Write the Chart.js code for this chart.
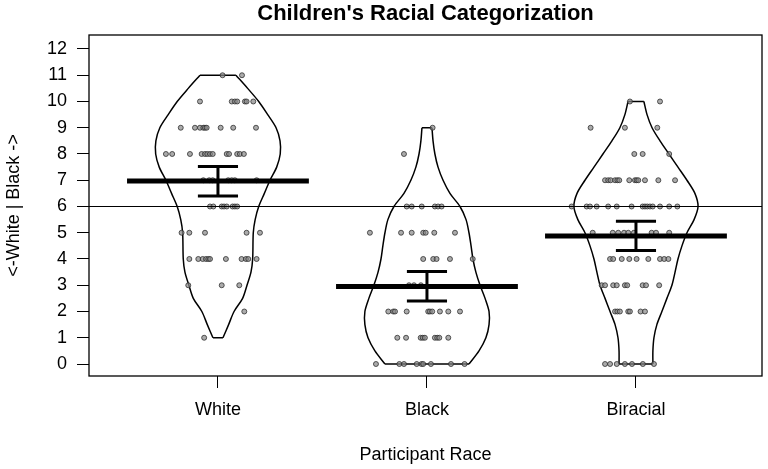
<!DOCTYPE html>
<html>
<head>
<meta charset="utf-8">
<script src="https://cdn.jsdelivr.net/npm/chart.js@4.4.1/dist/chart.umd.min.js"></script>
<style>
  html, body { margin: 0; padding: 0; background: #fff; }
</style>
</head>
<body>
<canvas id="chart" width="768" height="469"></canvas>
<script>
// categories and axis ticks
const groups = ['White', 'Black', 'Biracial'];
const yTicks = [0, 1, 2, 3, 4, 5, 6, 7, 8, 9, 10, 11, 12];
const refLine = 6;
const chartTitle = "Children's Racial Categorization";

// group means and error bar ends
const means = [6.97, 2.95, 4.88];
const errLow = [6.40, 2.40, 4.32];
const errHigh = [7.52, 3.52, 5.44];

// violin outlines: score level and half width (in category units)
const whiteLevels = [1, 1.5, 2, 2.5, 3, 3.5, 4, 5, 5.5, 6, 6.5, 7, 7.5, 8, 8.5, 9, 9.5, 10, 10.5, 11];
const whiteHalf = [0.024, 0.051, 0.077, 0.118, 0.139, 0.158, 0.166, 0.169, 0.178, 0.195, 0.222, 0.249, 0.281, 0.298, 0.297, 0.278, 0.238, 0.195, 0.142, 0.086];
const blackLevels = [0, 0.5, 1, 1.5, 2, 2.5, 3, 3.5, 4, 4.5, 5, 5.5, 6, 6.5, 7, 7.5, 8, 8.5, 9];
const blackHalf = [0.201, 0.249, 0.282, 0.297, 0.297, 0.278, 0.254, 0.234, 0.220, 0.211, 0.201, 0.187, 0.158, 0.110, 0.077, 0.053, 0.038, 0.029, 0.024];
const biracialLevels = [0, 0.5, 1, 1.5, 2, 2.5, 3, 3.5, 4, 4.5, 5, 5.5, 6, 6.5, 7, 7.5, 8, 8.5, 9, 9.5, 10];
const biracialHalf = [0.081, 0.081, 0.086, 0.100, 0.124, 0.148, 0.172, 0.187, 0.201, 0.220, 0.244, 0.278, 0.297, 0.282, 0.244, 0.201, 0.158, 0.115, 0.077, 0.053, 0.038];

// individual answers and their horizontal jitter
const whiteScores = [11, 11,
  10, 10, 10, 10, 10, 10, 10,
  9, 9, 9, 9, 9, 9, 9, 9, 9,
  8, 8, 8, 8, 8, 8, 8, 8, 8, 8, 8, 8, 8,
  7, 7, 7, 7, 7, 7, 7,
  6, 6, 6, 6, 6, 6, 6, 6,
  5, 5, 5, 5, 5,
  4, 4, 4, 4, 4, 4, 4, 4, 4, 4, 4,
  3, 3, 3,
  2,
  1];
const whiteJitter = [0.022, 0.115,
  -0.086, 0.066, 0.081, 0.092, 0.129, 0.137, 0.169,
  -0.178, -0.110, -0.086, -0.070, -0.062, -0.054, 0.013, 0.073, 0.182,
  -0.249, -0.219, -0.134, -0.078, -0.062, -0.051, -0.038, -0.025, 0.042, 0.053, 0.092, 0.105, 0.124,
  -0.070, -0.042, -0.025, 0.049, 0.066, 0.081, 0.185,
  -0.038, -0.022, 0.018, 0.029, 0.042, 0.070, 0.081, 0.092,
  -0.174, -0.137, -0.062, 0.137, 0.201,
  -0.137, -0.094, -0.073, -0.057, -0.046, -0.038, 0.038, 0.113, 0.134, 0.145, 0.185,
  -0.142, 0.018, 0.102,
  0.126,
  -0.066];

const blackScores = [9, 8,
  6, 6, 6, 6, 6, 6,
  5, 5, 5, 5, 5, 5, 5,
  4, 4, 4, 4, 4,
  3, 3, 3,
  2, 2, 2, 2, 2, 2, 2, 2, 2, 2,
  1, 1, 1, 1, 1, 1, 1, 1, 1,
  0, 0, 0, 0, 0, 0, 0, 0, 0];
const blackJitter = [0.027, -0.110,
  -0.097, -0.073, -0.025, 0.038, 0.053, 0.070,
  -0.273, -0.124, -0.073, -0.018, -0.006, 0.035, 0.134,
  -0.018, 0.030, 0.046, 0.110, 0.219,
  -0.086, -0.062, -0.029,
  -0.185, -0.161, -0.153, -0.097, 0.006, 0.014, 0.025, 0.062, 0.102, 0.158,
  -0.142, -0.100, -0.030, -0.020, -0.010, 0.038, 0.049, 0.059, 0.102,
  -0.244, -0.132, -0.110, -0.049, -0.026, -0.018, 0.019, 0.115, 0.180];

const biracialScores = [10, 10,
  9, 9, 9,
  8, 8, 8,
  7, 7, 7, 7, 7, 7, 7, 7, 7, 7, 7, 7, 7,
  6, 6, 6, 6, 6, 6, 6, 6, 6, 6, 6, 6, 6, 6, 6,
  5, 5, 5, 5, 5, 5, 5, 5, 5,
  4, 4, 4, 4, 4, 4, 4, 4, 4,
  3, 3, 3, 3, 3, 3, 3, 3, 3,
  2, 2, 2, 2, 2, 2, 2,
  0, 0, 0, 0, 0, 0, 0];
const biracialJitter = [-0.029, 0.115,
  -0.217, -0.053, 0.102,
  -0.008, 0.032, 0.159,
  -0.148, -0.133, -0.121, -0.100, -0.089, -0.080, -0.032, -0.005, 0.003, 0.011, 0.043, 0.107, 0.187,
  -0.308, -0.236, -0.220, -0.188, -0.133, -0.092, -0.021, 0.032, 0.043, 0.054, 0.067, 0.080, 0.115, 0.159, 0.198,
  -0.207, -0.111, -0.085, -0.057, -0.037, -0.010, 0.075, 0.096, 0.159,
  -0.124, -0.109, -0.068, -0.032, 0.003, 0.059, 0.115, 0.135, 0.155,
  -0.164, -0.148, -0.109, -0.092, -0.053, -0.042, 0.032, 0.048, 0.111,
  -0.100, -0.089, -0.077, -0.037, -0.029, 0.022, 0.043,
  -0.148, -0.124, -0.092, -0.053, -0.019, 0.033, 0.086];

const violins = [
  { levels: whiteLevels, half: whiteHalf },
  { levels: blackLevels, half: blackHalf },
  { levels: biracialLevels, half: biracialHalf }
];
const pointSets = [
  { scores: whiteScores, jitter: whiteJitter },
  { scores: blackScores, jitter: blackJitter },
  { scores: biracialScores, jitter: biracialJitter }
];

const X_MIN = 0.383, X_MAX = 3.603;
const MEAN_HALF = 0.435, CAP_HALF = 0.096;
const FONT = '"Liberation Sans", Arial, Helvetica, sans-serif';

function line(data, width, order, tension) {
  return {
    data, showLine: true, borderColor: '#000', borderWidth: width,
    pointRadius: 0, tension: tension || 0, order, fill: false, borderCapStyle: 'butt'
  };
}

const datasets = [];

// violins (drawn at the back)
violins.forEach((v, i) => {
  const c = i + 1;
  const right = v.levels.map((y, k) => ({ x: c + v.half[k], y }));
  const left = v.levels.map((y, k) => ({ x: c - v.half[k], y }));
  const n = v.levels.length - 1;
  datasets.push(line(right, 1.5, 5, 0.3));
  datasets.push(line(left, 1.5, 5, 0.3));
  datasets.push(line([{ x: c - v.half[0], y: v.levels[0] }, { x: c + v.half[0], y: v.levels[0] }], 1.5, 5));
  datasets.push(line([{ x: c - v.half[n], y: v.levels[n] }, { x: c + v.half[n], y: v.levels[n] }], 1.5, 5));
});

// jittered points
pointSets.forEach((p, i) => {
  const c = i + 1;
  datasets.push({
    data: p.scores.map((y, k) => ({ x: c + p.jitter[k], y })),
    pointRadius: 2.5,
    pointBackgroundColor: 'rgba(135,135,135,0.7)',
    pointBorderColor: 'rgba(40,40,40,0.75)',
    pointBorderWidth: 1,
    showLine: false,
    order: 4
  });
});

// reference line
datasets.push(line([{ x: X_MIN, y: refLine }, { x: X_MAX, y: refLine }], 1.2, 3));

// means and error bars
means.forEach((m, i) => {
  const c = i + 1;
  datasets.push(line([{ x: c - MEAN_HALF, y: m }, { x: c + MEAN_HALF, y: m }], 5, 1));
  datasets.push(line([{ x: c, y: errLow[i] }, { x: c, y: errHigh[i] }], 3, 1));
  datasets.push(line([{ x: c - CAP_HALF, y: errLow[i] }, { x: c + CAP_HALF, y: errLow[i] }], 3, 1));
  datasets.push(line([{ x: c - CAP_HALF, y: errHigh[i] }, { x: c + CAP_HALF, y: errHigh[i] }], 3, 1));
});

// box around the plot area, title centred over it
const boxPlugin = {
  id: 'box',
  afterDatasetsDraw(chart) {
    const a = chart.chartArea, ctx = chart.ctx;
    ctx.save();
    ctx.strokeStyle = '#000';
    ctx.lineWidth = 1.3;
    ctx.strokeRect(a.left, a.top, a.right - a.left, a.bottom - a.top);
    ctx.fillStyle = '#000';
    ctx.font = 'bold 22px ' + FONT;
    ctx.textAlign = 'center';
    ctx.textBaseline = 'middle';
    ctx.fillText(chartTitle, (a.left + a.right) / 2, 14);
    ctx.restore();
  }
};

new Chart(document.getElementById('chart'), {
  type: 'scatter',
  data: { datasets },
  plugins: [boxPlugin],
  options: {
    responsive: false,
    animation: false,
    devicePixelRatio: 1,
    layout: { padding: { left: 0, right: 6, top: 35, bottom: 0 } },
    plugins: {
      legend: { display: false },
      tooltip: { enabled: false },
      title: { display: false }
    },
    scales: {
      x: {
        type: 'linear',
        min: X_MIN,
        max: X_MAX,
        afterBuildTicks: s => { s.ticks = groups.map((g, i) => ({ value: i + 1 })); },
        afterFit: s => { s.height = 93; },
        ticks: {
          callback: v => groups[v - 1],
          color: '#000',
          font: { family: FONT, size: 18 },
          padding: 11,
          maxRotation: 0
        },
        grid: { display: true, drawOnChartArea: false, drawTicks: true, tickLength: 12, color: '#000', lineWidth: 1 },
        border: { display: false },
        title: {
          display: true,
          text: 'Participant Race',
          color: '#000',
          font: { family: FONT, size: 18 },
          padding: { top: 0, bottom: 3 }
        }
      },
      y: {
        type: 'linear',
        min: -0.457,
        max: 12.533,
        afterBuildTicks: s => { s.ticks = yTicks.map(v => ({ value: v })); },
        afterFit: s => { s.width = 89; },
        ticks: {
          color: '#000',
          font: { family: FONT, size: 18 },
          padding: 10
        },
        grid: { display: true, drawOnChartArea: false, drawTicks: true, tickLength: 12, color: '#000', lineWidth: 1 },
        border: { display: false },
        title: {
          display: true,
          text: '<-White | Black ->',
          color: '#000',
          font: { family: FONT, size: 18 },
          padding: { top: 3, bottom: 0 }
        }
      }
    }
  }
});
</script>
</body>
</html>
